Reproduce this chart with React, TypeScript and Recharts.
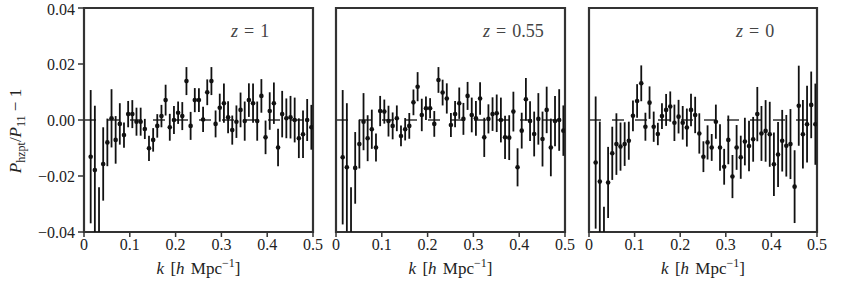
import React from 'react';
import { ScatterChart, Scatter, XAxis, YAxis, ErrorBar, ReferenceLine, ReferenceArea } from 'recharts';

// k bins (h/Mpc), shared by all three panels
const kValues = [
  0.0146, 0.0237, 0.0328, 0.0419, 0.0510, 0.0601, 0.0691, 0.0782, 0.0873, 0.0964,
  0.1055, 0.1146, 0.1237, 0.1328, 0.1419, 0.1510, 0.1600, 0.1691, 0.1782, 0.1873,
  0.1964, 0.2055, 0.2146, 0.2237, 0.2328, 0.2419, 0.2509, 0.2600, 0.2691, 0.2782,
  0.2873, 0.2964, 0.3055, 0.3146, 0.3237, 0.3328, 0.3418, 0.3509, 0.3600, 0.3691,
  0.3782, 0.3873, 0.3964, 0.4055, 0.4146, 0.4237, 0.4327, 0.4418, 0.4509, 0.4600,
  0.4691, 0.4782, 0.4873, 0.4964,
];

const z1Values = [
  -0.0131, -0.0179, -0.047, -0.0157, -0.008, 0.0006, -0.0071, -0.0014, -0.0054, 0.0021,
  0.0021, -0.0006, -0.0006, -0.0032, -0.0101, -0.0071, -0.0021, 0.0014, 0.0071, -0.0026,
  0.0, 0.0026, 0.0014, 0.0139, -0.0021, 0.0071, 0.0071, 0.0002, 0.0099, 0.0139,
  -0.0014, 0.0044, 0.006, 0.001, -0.0036, -0.0006, 0.0036, -0.0004, 0.0071, 0.006,
  -0.0004, 0.0086, -0.0062, 0.0032, 0.006, -0.0098, 0.0021, 0.0006, 0.001, 0.0,
  -0.0065, -0.0051, 0.0, -0.0026,
];
const z1Errors = [
  0.0238, 0.023, 0.023, 0.0131, 0.0085, 0.0104, 0.0085, 0.0074, 0.0045, 0.0047,
  0.005, 0.005, 0.005, 0.0036, 0.0045, 0.0042, 0.0042, 0.004, 0.0055, 0.0048,
  0.005, 0.004, 0.005, 0.005, 0.005, 0.0043, 0.0042, 0.0045, 0.0046, 0.005,
  0.0048, 0.005, 0.007, 0.0057, 0.0052, 0.0058, 0.0062, 0.007, 0.006, 0.007,
  0.007, 0.006, 0.006, 0.0067, 0.0074, 0.0067, 0.0083, 0.0071, 0.0076, 0.008,
  0.0071, 0.0085, 0.0075, 0.008,
];

const z055Values = [
  -0.0133, -0.0169, -0.047, -0.0171, -0.0086, -0.0006, -0.0065, -0.0033, -0.0098, 0.0032,
  0.003, -0.0004, -0.0021, 0.0006, -0.0057, -0.0033, -0.0021, 0.0063, 0.0119, 0.0018,
  0.0042, 0.0042, -0.0014, 0.0143, 0.0098, 0.0077, -0.0018, 0.0021, 0.006, 0.0004,
  0.0086, 0.0018, 0.0006, 0.0077, -0.0062, 0.0004, 0.0021, 0.0024, 0.0, -0.0062,
  -0.0063, 0.003, -0.0169, -0.0038, 0.0074, -0.0004, -0.005, 0.0004, -0.0068, 0.0036,
  -0.0098, -0.0004, 0.0, -0.0038,
];
const z055Errors = [
  0.024, 0.0229, 0.023, 0.0128, 0.0087, 0.0102, 0.0082, 0.007, 0.005, 0.0054,
  0.0043, 0.0055, 0.0048, 0.0046, 0.0037, 0.004, 0.0046, 0.0046, 0.0052, 0.0058,
  0.0042, 0.0036, 0.0046, 0.0046, 0.0046, 0.0054, 0.0043, 0.0047, 0.0056, 0.0057,
  0.005, 0.0062, 0.0062, 0.0058, 0.007, 0.0052, 0.006, 0.0067, 0.008, 0.0077,
  0.008, 0.0071, 0.0068, 0.0064, 0.0076, 0.0071, 0.008, 0.0092, 0.0098, 0.0083,
  0.0103, 0.009, 0.011, 0.009,
];

const z0Values = [
  -0.0152, -0.022, -0.052, -0.0223, -0.0119, -0.0086, -0.0095, -0.0086, -0.0074, 0.0015,
  0.0068, 0.0131, -0.0024, 0.0062, -0.0024, -0.005, 0.0014, 0.0036, 0.0048, -0.001,
  0.0012, -0.001, -0.0027, 0.0036, 0.0018, -0.0048, -0.0131, -0.008, -0.0098, -0.0006,
  -0.0098, -0.0167, -0.0071, -0.0202, -0.0098, -0.0133, -0.0077, -0.0093, -0.0069, 0.0021,
  -0.0048, -0.0039, -0.0051, -0.0158, -0.0123, -0.0074, -0.0092, -0.0086, -0.0238, 0.0051,
  -0.0051, -0.0015, 0.0054, -0.0015,
];
const z0Errors = [
  0.0236, 0.0214, 0.021, 0.0127, 0.0095, 0.011, 0.0086, 0.0078, 0.0068, 0.0055,
  0.006, 0.0064, 0.005, 0.0058, 0.0054, 0.004, 0.0046, 0.0057, 0.0054, 0.0065,
  0.006, 0.006, 0.0068, 0.0058, 0.0065, 0.0072, 0.0055, 0.0061, 0.0048, 0.0061,
  0.0083, 0.0064, 0.0087, 0.0077, 0.008, 0.0077, 0.0085, 0.009, 0.008, 0.0097,
  0.0098, 0.011, 0.0116, 0.0113, 0.0116, 0.011, 0.011, 0.0125, 0.013, 0.0143,
  0.0122, 0.0137, 0.0119, 0.0145,
];

const xTicks = [0, 0.1, 0.2, 0.3, 0.4, 0.5];
const yTicks = [-0.04, -0.02, 0, 0.02, 0.04];
const Y_MIN = -0.04;
const Y_MAX = 0.04;

const FONT = '"Liberation Serif", "DejaVu Serif", serif';
const TOP = 8;
const PLOT_H = 224;
const PAD = 12;

// error bars are cut at the axes limits (the library does not clip them)
const makeRows = (values: number[], errors: number[]) =>
  kValues.map((k, i) => {
    const y = values[i];
    const e = errors[i];
    const low = Math.min(e, y - Y_MIN);
    const high = Math.min(e, Y_MAX - y);
    return { k, y, err: [low, high] };
  });

const fmtX = (v: number) => (v === 0 ? '0' : v.toFixed(1));
const fmtY = (v: number) => (v < 0 ? '\u2212' : '') + Math.abs(v).toFixed(2);

const Dot = (props: any) => <circle cx={props.cx} cy={props.cy} r={2.3} fill="#111" />;

type PanelProps = {
  values: number[];
  errors: number[];
  plotLeft: number;
  plotWidth: number;
  showY?: boolean;
};

const Panel: React.FC<PanelProps> = ({ values, errors, plotLeft, plotWidth, showY }) => {
  const data = makeRows(values, errors);
  const yWidth = showY ? plotLeft : 0;
  const left = showY ? 0 : plotLeft - PAD;
  const width = (showY ? plotLeft : PAD) + plotWidth + PAD;

  return (
    <div style={{ position: 'absolute', left, top: 0 }}>
      <ScatterChart
        width={width}
        height={281}
        margin={{ top: TOP, right: PAD, bottom: 0, left: showY ? 0 : PAD }}
      >
        <XAxis
          type="number"
          dataKey="k"
          domain={[0, 0.5]}
          ticks={xTicks}
          tickFormatter={fmtX}
          allowDataOverflow
          height={281 - TOP - PLOT_H}
          axisLine={false}
          tickSize={5}
          tickMargin={2}
          tickLine={{ stroke: '#333', strokeWidth: 1.5 }}
          tick={{ fill: '#222', fontSize: 16, fontFamily: FONT }}
        />
        <YAxis
          type="number"
          dataKey="y"
          domain={[Y_MIN, Y_MAX]}
          ticks={yTicks}
          tickFormatter={fmtY}
          allowDataOverflow
          hide={!showY}
          width={yWidth}
          axisLine={false}
          tickSize={6}
          tickMargin={3}
          tickLine={{ stroke: '#333', strokeWidth: 1.5 }}
          tick={{ fill: '#222', fontSize: 16, fontFamily: FONT }}
        />
        <ReferenceLine y={0} stroke="#333" strokeWidth={1.5} strokeDasharray="12 11" />
        <Scatter data={data} shape={Dot} isAnimationActive={false}>
          <ErrorBar dataKey="err" direction="y" width={0} stroke="#111" strokeWidth={1.8} isAnimationActive={false} />
        </Scatter>
        <ReferenceArea
          x1={0}
          x2={0.5}
          y1={Y_MIN}
          y2={Y_MAX}
          fill="none"
          fillOpacity={0}
          stroke="#333"
          strokeWidth={2.2}
          ifOverflow="visible"
        />
      </ScatterChart>
    </div>
  );
};

const panels = [
  { values: z1Values, errors: z1Errors, plotLeft: 84, plotWidth: 229, label: '1' },
  { values: z055Values, errors: z055Errors, plotLeft: 336, plotWidth: 229, label: '0.55' },
  { values: z0Values, errors: z0Errors, plotLeft: 589, plotWidth: 228, label: '0' },
];

const App: React.FC = () => {
  return (
    <div style={{ position: 'absolute', left: 0, top: 0, width: 843, height: 281, background: '#fff' }}>
      {panels.map((p, i) => (
        <Panel
          key={i}
          values={p.values}
          errors={p.errors}
          plotLeft={p.plotLeft}
          plotWidth={p.plotWidth}
          showY={i === 0}
        />
      ))}
      <svg
        width={843}
        height={281}
        style={{ position: 'absolute', left: 0, top: 0, pointerEvents: 'none' }}
        fontFamily={FONT}
      >
        {panels.map((p, i) => (
          <text key={`z${i}`} x={p.plotLeft + 147} y={37} fontSize={18} fill="#444">
            <tspan fontStyle="italic">z</tspan>
            <tspan dx={6}>=</tspan>
            <tspan dx={6}>{p.label}</tspan>
          </text>
        ))}
        {panels.map((p, i) => (
          <text
            key={`x${i}`}
            x={p.plotLeft + p.plotWidth / 2}
            y={274}
            fontSize={17}
            fill="#222"
            textAnchor="middle"
          >
            <tspan fontStyle="italic">k</tspan>
            <tspan dx={2}> [</tspan>
            <tspan fontStyle="italic">h</tspan>
            <tspan dx={2}> Mpc</tspan>
            <tspan dy={-7} fontSize={12}>{'\u22121'}</tspan>
            <tspan dy={7}>]</tspan>
          </text>
        ))}
        <text
          transform="translate(21,131) rotate(-90)"
          fontSize={17}
          fill="#222"
          textAnchor="middle"
        >
          <tspan fontStyle="italic">P</tspan>
          <tspan dy={4} fontSize={12}>hzpt</tspan>
          <tspan dy={-4}>/</tspan>
          <tspan fontStyle="italic">P</tspan>
          <tspan dy={4} fontSize={12}>11</tspan>
          <tspan dy={-4}>{' \u2212 1'}</tspan>
        </text>
      </svg>
    </div>
  );
};

export default App;
